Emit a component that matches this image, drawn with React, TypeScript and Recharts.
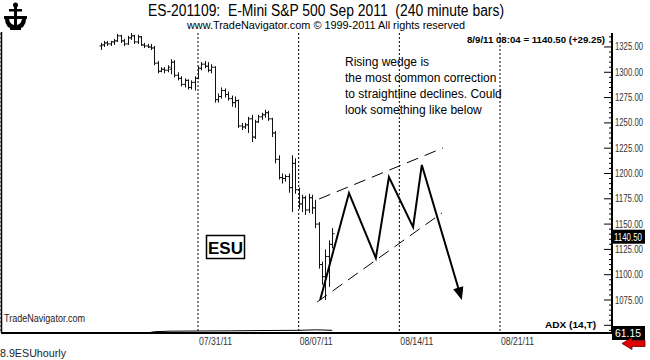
import React from 'react';
import { ComposedChart, Bar, Line, XAxis, YAxis, CartesianGrid, ReferenceLine } from 'recharts';

// ---- data (240-minute bars, x = bar number, 0 = week of 07/31/11) ----
const barIndex = [
  -29, -28, -27, -26, -25, -24, -23, -22, -21, -20,
  -19, -18, -17, -16, -15, -14, -13, -12, -11, -10,
  -9, -8, -7, -6, -5, -4, -3, -2, -1, 0,
  1, 2, 3, 4, 5, 6, 7, 8, 9, 10,
  11, 12, 13, 14, 15, 16, 17, 18, 19, 20,
  21, 22, 23, 24, 25, 26, 27, 28, 29, 30,
  31, 32, 33, 34, 35, 36, 37, 38, 39, 40,
];
const opens = [
  1326, 1327, 1329, 1328, 1330, 1331, 1336, 1331, 1328, 1334,
  1336, 1330, 1335, 1327, 1326, 1325, 1324, 1309, 1301, 1303,
  1302, 1303, 1310, 1297, 1294, 1288, 1292, 1285, 1290, 1294,
  1304, 1308, 1306, 1302, 1305, 1273, 1276, 1282, 1278, 1274,
  1270, 1272, 1247, 1246, 1248, 1254, 1236, 1251, 1256, 1258,
  1260, 1254, 1240, 1214, 1196, 1195, 1197, 1186, 1210, 1184,
  1170, 1176, 1164, 1176, 1166, 1150, 1110, 1098, 1118, 1130,
];
const highs = [
  1329, 1331, 1331, 1331, 1333, 1338, 1337, 1333, 1336, 1339,
  1337, 1337, 1336, 1329, 1328, 1328, 1326, 1311, 1305, 1305,
  1307, 1313, 1312, 1300, 1296, 1294, 1293, 1292, 1296, 1306,
  1310, 1311, 1310, 1308, 1306, 1279, 1285, 1284, 1281, 1277,
  1276, 1273, 1250, 1250, 1256, 1258, 1253, 1258, 1260, 1263,
  1262, 1255, 1242, 1218, 1200, 1199, 1200, 1218, 1215, 1186,
  1179, 1178, 1180, 1179, 1174, 1152, 1113, 1125, 1134, 1146,
];
const lows = [
  1322, 1325, 1326, 1326, 1327, 1330, 1329, 1326, 1327, 1332,
  1328, 1328, 1326, 1324, 1324, 1322, 1307, 1299, 1300, 1299,
  1300, 1298, 1295, 1292, 1286, 1285, 1283, 1283, 1282, 1293,
  1302, 1304, 1300, 1299, 1270, 1270, 1274, 1275, 1272, 1266,
  1265, 1245, 1243, 1244, 1240, 1231, 1234, 1250, 1253, 1255,
  1252, 1236, 1210, 1194, 1190, 1192, 1181, 1162, 1180, 1165,
  1162, 1159, 1161, 1160, 1146, 1106, 1090, 1075, 1088, 1126,
];
const closes = [
  1327, 1329, 1328, 1330, 1331, 1336, 1331, 1328, 1334, 1336,
  1330, 1335, 1327, 1326, 1325, 1324, 1309, 1301, 1303, 1302,
  1305, 1310, 1297, 1294, 1288, 1292, 1285, 1290, 1294, 1304,
  1308, 1306, 1302, 1305, 1273, 1276, 1282, 1278, 1274, 1270,
  1272, 1247, 1246, 1248, 1254, 1236, 1251, 1256, 1258, 1260,
  1254, 1240, 1214, 1196, 1195, 1197, 1186, 1210, 1184, 1170,
  1176, 1164, 1176, 1166, 1150, 1110, 1098, 1118, 1130, 1140.5,
];

// hand-drawn projection (zigzag) and wedge boundaries
const zigIndex = [36.4, 45.0, 53.0, 56.9, 64.1, 66.7, 78.1];
const zigPrice = [1075, 1180.7, 1116.5, 1196.5, 1147, 1208.4, 1081];
const upperIndex = [36.1, 73.0];
const upperPrice = [1174.8, 1225.2];
const lowerIndex = [35.5, 72.7];
const lowerPrice = [1073, 1161];

// ADX (14,T) sub-study
const adxIndex = [-15, -13, -8, 0, 10, 20, 30, 35, 37, 40];
const adxValue = [0, 8, 11, 12, 13, 15, 16, 19, 18, 16];

const weekTicks = [0, 30, 60, 90];
const weekLabels = ['07/31/11', '08/07/11', '08/14/11', '08/21/11'];
const priceLabels = [1075, 1100, 1125, 1150, 1175, 1200, 1225, 1250, 1275, 1300, 1325];
const lastPrice = 1140.5;
const lastAdx = '61.15';

// ---- tables for the library ----
const ohlcData = barIndex.map((i, k) => ({ i, open: opens[k], high: highs[k], low: lows[k], close: closes[k] }));
const zigData = zigIndex.map((i, k) => ({ i, p: zigPrice[k] }));
const upperData = upperIndex.map((i, k) => ({ i, p: upperPrice[k] }));
const lowerData = lowerIndex.map((i, k) => ({ i, p: lowerPrice[k] }));
const adxData = adxIndex.map((i, k) => ({ i, a: adxValue[k] }));

const minorTicks: number[] = [];
for (let v = 1045; v <= 1335; v += 5) minorTicks.push(v);

const FONT = 'Arial, "Liberation Sans", sans-serif';

const OhlcShape = (props: any) => {
  const { x, y, width, height, payload } = props;
  if (x == null || y == null) return <g />;
  const top = Math.min(y, y + height);
  const h = Math.abs(height);
  const { open, high, low, close } = payload;
  const cx = Math.round(x + width / 2) + 0.5;
  const py = (p: number) => top + ((high - p) / (high - low || 1)) * h;
  return (
    <g stroke="#111" strokeWidth={1}>
      <line x1={cx} x2={cx} y1={top} y2={top + h} />
      <line x1={cx - 2} x2={cx} y1={py(open)} y2={py(open)} />
      <line x1={cx} x2={cx + 2} y1={py(close)} y2={py(close)} />
    </g>
  );
};

const PriceTick = (props: any) => {
  const { x, y, payload } = props;
  const v = payload.value;
  const major = v % 25 === 0;
  return (
    <g>
      <line x1={x - (major ? 8 : 3)} x2={x} y1={y} y2={y} stroke="#000" strokeWidth={1} />
      {major && priceLabels.includes(v) && (
        <text x={x + 3} y={y + 3.5} fontSize={10} fontFamily={FONT} fill="#333" textLength={28} lengthAdjust="spacingAndGlyphs">
          {v.toFixed(2)}
        </text>
      )}
    </g>
  );
};

const DateTick = (props: any) => {
  const { x, y, payload } = props;
  const k = weekTicks.indexOf(payload.value);
  return (
    <text x={x + 1} y={y + 12} fontSize={10} fontFamily={FONT} fill="#333" textLength={33} lengthAdjust="spacingAndGlyphs">
      {weekLabels[k]}
    </text>
  );
};

const ArrowDot = (props: any) => {
  const { cx, cy, index } = props;
  if (index !== zigIndex.length - 1 || cx == null) return <g key={`d${index}`} />;
  return (
    <g key={`d${index}`} transform={`translate(${cx},${cy}) rotate(73.6)`}>
      <polygon points="5,0 -6,-4.5 -6,4.5" fill="#000" stroke="#000" />
    </g>
  );
};

const LastPriceBox = (props: any) => {
  const vb = props.viewBox || {};
  const x = vb.x + vb.width;
  const y = vb.y + 3;
  return (
    <g>
      <rect x={x} y={y - 7} width={33} height={14} fill="#000" />
      <text x={x + 2} y={y + 4} fontSize={10} fontFamily={FONT} fill="#fff" textLength={28} lengthAdjust="spacingAndGlyphs">
        {lastPrice.toFixed(2)}
      </text>
    </g>
  );
};

export default function App() {
  return (
    <div style={{ position: 'absolute', left: 0, top: 0, width: 650, height: 360, background: '#fff', overflow: 'hidden' }}>
      <ComposedChart width={650} height={360} data={ohlcData} margin={{ top: 33, right: 0, bottom: 7, left: 1 }}>
        <CartesianGrid horizontal={false} vertical stroke="#000" strokeDasharray="2 2" />
        <XAxis
          dataKey="i"
          type="number"
          domain={[-58.71, 123.38]}
          allowDataOverflow
          ticks={weekTicks}
          tick={<DateTick />}
          tickLine={false}
          tickSize={0}
          tickMargin={0}
          height={20}
          axisLine={{ stroke: '#000', strokeWidth: 2 }}
        />
        <YAxis
          yAxisId="price"
          orientation="right"
          type="number"
          domain={[1042.4, 1338.8]}
          allowDataOverflow
          ticks={minorTicks}
          interval={0}
          tick={<PriceTick />}
          tickLine={false}
          tickSize={0}
          tickMargin={0}
          width={38}
          axisLine={{ stroke: '#000', strokeWidth: 2 }}
        />
        <YAxis yAxisId="adx" hide type="number" domain={[0, 1800]} />
        <Bar
          yAxisId="price"
          dataKey={(d: any) => [d.low, d.high]}
          barSize={3}
          shape={<OhlcShape />}
          isAnimationActive={false}
        />
        <Line yAxisId="adx" data={adxData} dataKey="a" type="linear" stroke="#000" strokeWidth={1} dot={false} isAnimationActive={false} />
        <Line yAxisId="price" data={upperData} dataKey="p" type="linear" stroke="#000" strokeWidth={1} strokeDasharray="12 7" dot={false} isAnimationActive={false} />
        <Line yAxisId="price" data={lowerData} dataKey="p" type="linear" stroke="#000" strokeWidth={1} strokeDasharray="12 7" dot={false} isAnimationActive={false} />
        <Line yAxisId="price" data={zigData} dataKey="p" type="linear" stroke="#000" strokeWidth={2} dot={ArrowDot} isAnimationActive={false} />
        <ReferenceLine yAxisId="price" y={lastPrice} stroke="none" ifOverflow="visible" label={(p: any) => <LastPriceBox {...p} />} />
      </ComposedChart>
      <svg width={650} height={360} style={{ position: 'absolute', left: 0, top: 0, pointerEvents: 'none' }} fontFamily={FONT}>
        {/* logo */}
        <g fill="#000">
          <circle cx={15.5} cy={5} r={2.5} />
          <rect x={14} y={5} width={3} height={20} />
          <rect x={9} y={9} width={13} height={2.5} />
          <rect x={4} y={16} width={23} height={3} />
          <path d="M5 19 Q5 29 15.5 29 Q26 29 26 19 L22 19 Q21 25 15.5 25 Q10 25 9 19 Z" />
          <rect x={10} y={26} width={11} height={4} />
        </g>
        {/* frame pieces */}
        <line x1={1.5} x2={1.5} y1={32} y2={333} stroke="#000" strokeWidth={1.5} />
        {/* titles */}
        <text x={326} y={16} textAnchor="middle" fontSize={16} fill="#000" textLength={356} lengthAdjust="spacingAndGlyphs" style={{ whiteSpace: 'pre' }}>
          {'ES-201109:  E-Mini S&P 500 Sep 2011  (240 minute bars)'}
        </text>
        <text x={326} y={29} textAnchor="middle" fontSize={10.5} fill="#000" textLength={278} lengthAdjust="spacingAndGlyphs">
          {'www.TradeNavigator.com © 1999-2011 All rights reserved'}
        </text>
        <text x={467} y={43} fontSize={8.5} fontWeight="bold" fill="#000" textLength={138} lengthAdjust="spacingAndGlyphs">
          {'8/9/11 08:04 = 1140.50 (+29.25)'}
        </text>
        {/* annotation */}
        <g fontSize={12} fill="#000">
          <text x={345} y={66}>Rising wedge is</text>
          <text x={345} y={82}>the most common correction</text>
          <text x={345} y={98}>to straightline declines. Could</text>
          <text x={345} y={114}>look something like below</text>
        </g>
        {/* ESU box */}
        <rect x={206.5} y={235.5} width={38} height={23} fill="#fff" stroke="#000" strokeWidth={1.5} />
        <text x={225.5} y={253.5} textAnchor="middle" fontSize={17} fontWeight="bold" fill="#000">ESU</text>
        {/* footer */}
        <text x={4} y={322} fontSize={10} fill="#222" textLength={81} lengthAdjust="spacingAndGlyphs">TradeNavigator.com</text>
        <text x={545} y={328} fontSize={9} fontWeight="bold" fill="#000" textLength={51} lengthAdjust="spacingAndGlyphs">ADX (14,T)</text>
        <rect x={612} y={326} width={33} height={14} fill="#000" />
        <text x={615} y={337} fontSize={10} fill="#fff" textLength={26} lengthAdjust="spacingAndGlyphs">{lastAdx}</text>
        <text x={0} y={357} fontSize={11} fill="#222" textLength={66} lengthAdjust="spacingAndGlyphs">8.9ESUhourly</text>
        {/* red arrow */}
        <path d="M622 343.5 L632 337.5 L632 340.5 L645 340.5 L645 346.5 L632 346.5 L632 349.5 Z" fill="#e00000" stroke="#600" strokeWidth={0.8} />
      </svg>
    </div>
  );
}
